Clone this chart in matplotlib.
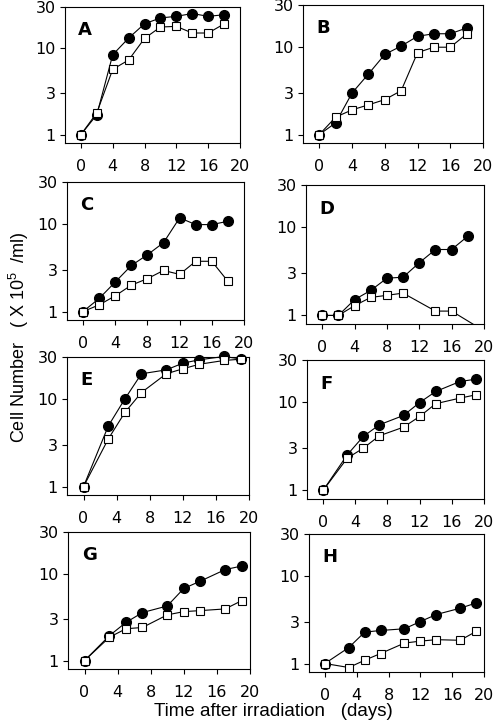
import matplotlib
matplotlib.use("Agg")
import matplotlib.pyplot as plt

plt.rcParams['font.family'] = ['Liberation Sans', 'DejaVu Sans']
plt.rcParams['mathtext.fontset'] = 'custom'
plt.rcParams['mathtext.rm'] = 'Liberation Sans'

# days for the two kinds of time course
days_a = [0, 2, 4, 6, 8, 10, 12, 14, 16, 18]
days_b = [0, 3, 5, 7, 10, 12, 14, 17, 19]
days_d_open = [0, 2, 4, 6, 8, 10, 14, 16, 20]

# filled circles / open squares, cell number (x10^5/ml)
a_fill = [1, 1.7, 8.4, 13.1, 19.2, 22.4, 23.4, 25.2, 23.4, 24.4]
a_open = [1, 1.79, 5.7, 7.3, 13.0, 17.6, 17.9, 15.0, 15.0, 19.1]
b_fill = [1, 1.36, 2.98, 4.9, 8.2, 10.2, 13.2, 14.1, 14.1, 16.4]
b_open = [1, 1.58, 1.91, 2.18, 2.5, 3.16, 8.6, 9.9, 9.9, 14.0]
c_fill = [1, 1.41, 2.17, 3.35, 4.44, 6.1, 11.7, 9.8, 9.8, 10.7]
c_open = [1, 1.19, 1.51, 2.0, 2.37, 2.94, 2.65, 3.74, 3.74, 2.21]
d_fill = [1, 1, 1.51, 1.92, 2.64, 2.71, 3.95, 5.58, 5.58, 7.9]
d_open = [1, 1, 1.29, 1.6, 1.69, 1.79, 1.12, 1.12, 0.67]
e_fill = [1, 4.92, 10.0, 19.3, 21.4, 25.5, 27.9, 30.4, 28.5]
e_open = [1, 3.5, 7.0, 11.8, 19.3, 22.0, 24.8, 27.4, 28.3]
f_fill = [1, 2.53, 4.09, 5.54, 7.07, 9.9, 13.2, 17.1, 18.2]
f_open = [1, 2.32, 3.01, 4.16, 5.21, 6.88, 9.6, 11.1, 12.1]
g_fill = [1, 1.93, 2.74, 3.56, 4.24, 6.74, 8.18, 11.1, 12.2]
g_open = [1, 1.85, 2.32, 2.4, 3.35, 3.65, 3.75, 3.92, 4.88]
h_fill = [1, 1.52, 2.28, 2.38, 2.49, 3.01, 3.62, 4.27, 4.9]
h_open = [1, 0.90, 1.09, 1.3, 1.71, 1.8, 1.87, 1.84, 2.32]

panels = [
    ("A", days_a, a_fill, days_a, a_open, (65, 7, 240, 143)),
    ("B", days_a, b_fill, days_a, b_open, (303, 5, 483, 143)),
    ("C", days_a, c_fill, days_a, c_open, (67, 182, 244, 320)),
    ("D", days_a, d_fill, days_d_open, d_open, (306, 185, 484, 324)),
    ("E", days_b, e_fill, days_b, e_open, (67, 357, 249, 495)),
    ("F", days_b, f_fill, days_b, f_open, (307, 360, 484, 499)),
    ("G", days_b, g_fill, days_b, g_open, (68, 532, 250, 669)),
    ("H", days_b, h_fill, days_b, h_open, (309, 534, 484, 672)),
]

W, H = 496, 726
fig = plt.figure(figsize=(W / 100, H / 100), dpi=100)

for name, xf, yf, xo, yo, (l, t, r, b) in panels:
    ax = fig.add_axes([l / W, 1 - b / H, (r - l) / W, (b - t) / H])
    ax.plot(xf, yf, '-o', color='black', lw=0.8, ms=7, mfc='black',
            mec='black', zorder=2, clip_on=False)
    ax.plot(xo, yo, '-s', color='black', lw=0.8, ms=6.3, mfc='white',
            mec='black', mew=0.8, zorder=3)
    ax.set_yscale('log')
    ax.set_ylim(0.8, 30)
    ax.set_xlim(-2, 20)
    ax.set_yticks([1, 3, 10, 30])
    ax.set_yticklabels(['1', '3', '10', '30'])
    ax.minorticks_off()
    ax.set_xticks([0, 4, 8, 12, 16, 20])
    ax.tick_params(direction='out', length=3.5, width=0.8, labelsize=11.5,
                   pad=3)
    ax.tick_params(axis='x', pad=8)
    for lab in ax.get_xticklabels() + ax.get_yticklabels():
        lab.set_family('DejaVu Sans')
    for s in ax.spines.values():
        s.set_linewidth(0.8)
    ax.text(0.075, 0.83, name, transform=ax.transAxes, fontsize=13,
            fontweight='bold', family='DejaVu Sans', ha='left', va='center')

fig.text(19 / W, 1 - 337 / H, r'Cell Number   ( X 10$^{5}$  /ml)',
         rotation=90, fontsize=13, ha='center', va='center')
fig.text(273 / W, 1 - 711 / H, 'Time after irradiation   (days)',
         fontsize=13.5, ha='center', va='center')

fig.savefig('out.png', dpi=100, facecolor='white')
